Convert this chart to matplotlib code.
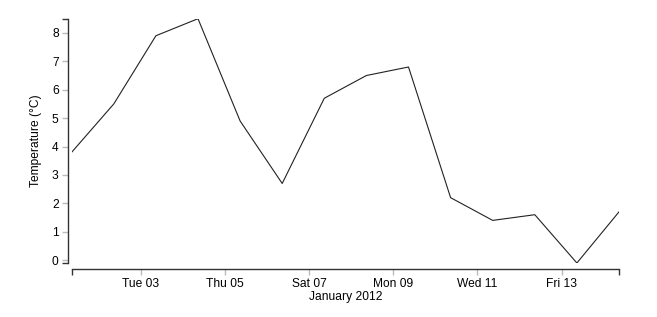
import pandas as pd
import matplotlib
matplotlib.use("Agg")
import matplotlib.pyplot as plt
import matplotlib.dates as mdates

# daily temperature readings, January 2012
dates = pd.to_datetime([
    "2012-01-01 08:40", "2012-01-02 08:40", "2012-01-03 08:40", "2012-01-04 08:40",
    "2012-01-05 08:40", "2012-01-06 08:40", "2012-01-07 08:40", "2012-01-08 08:40",
    "2012-01-09 08:40", "2012-01-10 08:40", "2012-01-11 08:40", "2012-01-12 08:40",
    "2012-01-13 08:40", "2012-01-14 08:40",
])
temps = [3.8, 5.5, 7.9, 8.5, 4.9, 2.7, 5.7, 6.5, 6.8, 2.2, 1.4, 1.6, -0.1, 1.7]
tick_days = [3, 5, 7, 9, 11, 13]
y_ticks = [0, 1, 2, 3, 4, 5, 6, 7, 8]

plt.rcParams["font.family"] = ["Liberation Sans", "DejaVu Sans"]
plt.rcParams["font.size"] = 8.64

axis_col = "#333333"
tick_col = "#bbbbbb"
px = 0.72  # one pixel in points at dpi 100

fig = plt.figure(figsize=(6.57, 3.17), dpi=100)
ax = fig.add_axes([71.7 / 657, 1 - 263 / 317, (619 - 71.7) / 657, (263 - 18.7) / 317])

ax.plot(dates, temps, color="#222222", lw=0.8)

ax.set_xlim(dates[0], dates[-1])
ax.set_ylim(min(temps), max(temps))

ax.xaxis.set_major_locator(mdates.DayLocator(bymonthday=tick_days))
ax.xaxis.set_major_formatter(mdates.DateFormatter("%a %d"))
ax.set_yticks(y_ticks)

# outer ticks at the domain ends, d3 style
ax.set_xticks([mdates.date2num(dates[0]), mdates.date2num(dates[-1])], minor=True)
ax.set_yticks([min(temps), max(temps)], minor=True)

for s in ["top", "right"]:
    ax.spines[s].set_visible(False)
ax.spines["left"].set_position(("outward", 4 * px))
ax.spines["bottom"].set_position(("outward", 6 * px))
for s in ["left", "bottom"]:
    ax.spines[s].set_color(axis_col)
    ax.spines[s].set_linewidth(1.0)

ax.tick_params(which="major", length=6 * px, width=1.0, color=tick_col,
               pad=3 * px, labelcolor="black")
ax.tick_params(which="minor", length=6 * px, width=1.0, color=axis_col)

ax.set_xlabel("January 2012", labelpad=1)
ax.set_ylabel("Temperature (°C)", labelpad=7)

fig.savefig("out.png", dpi=100)
